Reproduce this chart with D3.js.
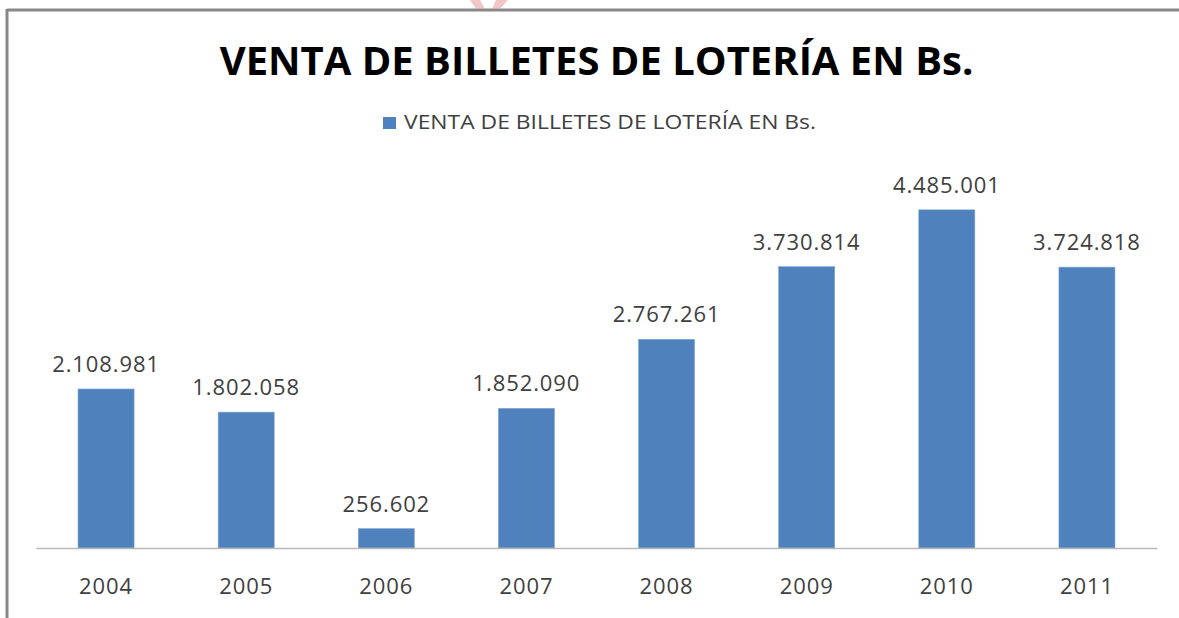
<!DOCTYPE html>
<html>
<head>
<meta charset="utf-8">
<script src="https://cdn.jsdelivr.net/npm/d3@7"></script>
<style>
    body { margin: 0; background: #fff; }
    text { font-family: "Open Sans", sans-serif; }
</style>
</head>
<body>
<div id="chart"></div>
<script>
const TITLE = "VENTA DE BILLETES DE LOTERÍA EN Bs.";
const SERIES_NAME = "VENTA DE BILLETES DE LOTERÍA EN Bs.";
const YEARS = ["2004", "2005", "2006", "2007", "2008", "2009", "2010", "2011"];
const SALES = [2108981, 1802058, 256602, 1852090, 2767261, 3730814, 4485001, 3724818];

const WIDTH = 1179, HEIGHT = 618;
const MARGINS = { top: 171, right: 22, bottom: 70, left: 36 };
const BAR_COLOR = "#4f81bd";
const TEXT_COLOR = "#404040";

const svg = d3.select("#chart").append("svg")
    .attr("width", WIDTH)
    .attr("height", HEIGHT);

// chart frame (only top and left edges visible in the picture)
svg.append("line")
    .attr("x1", 7).attr("x2", WIDTH).attr("y1", 10).attr("y2", 10)
    .attr("stroke", "#888").attr("stroke-width", 3);
svg.append("line")
    .attr("x1", 7).attr("x2", 7).attr("y1", 9).attr("y2", HEIGHT)
    .attr("stroke", "#888").attr("stroke-width", 3);

// stray watermark strokes above the frame
svg.append("path")
    .attr("d", "M470,0 L480,0 L485,9 L476,9 Z M496,0 L508,0 L500,9 L492,9 Z")
    .attr("fill", "#e8a0a0").attr("opacity", 0.6);

const x = d3.scaleBand()
    .domain(YEARS)
    .range([MARGINS.left, WIDTH - MARGINS.right])
    .paddingInner(0.6)
    .paddingOuter(0.3);

const y = d3.scaleLinear()
    .domain([0, 5000000])
    .range([HEIGHT - MARGINS.bottom, MARGINS.top]);

const fmt = d3.formatLocale({ decimal: ",", thousands: ".", grouping: [3], currency: ["", ""] }).format(",d");

svg.append("g")
    .selectAll("rect")
    .data(SALES)
    .enter()
    .append("rect")
    .attr("x", (d, i) => x(YEARS[i]))
    .attr("y", d => y(d))
    .attr("width", x.bandwidth())
    .attr("height", d => y(0) - y(d))
    .attr("fill", BAR_COLOR)
    .attr("stroke", "#7ea6d8")
    .attr("stroke-width", 0.6);

// value labels
svg.append("g")
    .selectAll("text")
    .data(SALES)
    .enter()
    .append("text")
    .attr("x", (d, i) => x(YEARS[i]) + x.bandwidth() / 2)
    .attr("y", d => y(d) - 17)
    .attr("text-anchor", "middle")
    .attr("font-size", 22)
    .attr("letter-spacing", 0.9)
    .attr("fill", TEXT_COLOR)
    .text(d => fmt(d));

// category axis
const xAxis = svg.append("g")
    .attr("transform", "translate(0," + y(0) + ")")
    .call(d3.axisBottom(x).tickSize(0).tickPadding(46));
xAxis.select(".domain").attr("stroke", "#b8b8b8").attr("stroke-width", 1.5);
xAxis.selectAll("text")
    .attr("font-size", 22)
    .attr("font-family", "Open Sans, sans-serif")
    .attr("letter-spacing", 0.9)
    .attr("fill", TEXT_COLOR)
    .attr("dy", "0");

// title
const cx = (MARGINS.left + WIDTH - MARGINS.right) / 2;
svg.append("text")
    .attr("x", cx)
    .attr("y", 75)
    .attr("text-anchor", "middle")
    .attr("font-size", 40)
    .attr("font-weight", "bold")
    .attr("fill", "#000")
    .text(TITLE);

// legend
const legend = svg.append("g").attr("transform", "translate(383,117)");
legend.append("rect")
    .attr("width", 13).attr("height", 12)
    .attr("fill", BAR_COLOR);
legend.append("text")
    .attr("x", 21)
    .attr("y", 12)
    .attr("font-size", 20)
    .attr("textLength", 412)
    .attr("lengthAdjust", "spacingAndGlyphs")
    .attr("fill", TEXT_COLOR)
    .text(SERIES_NAME);
</script>
</body>
</html>
